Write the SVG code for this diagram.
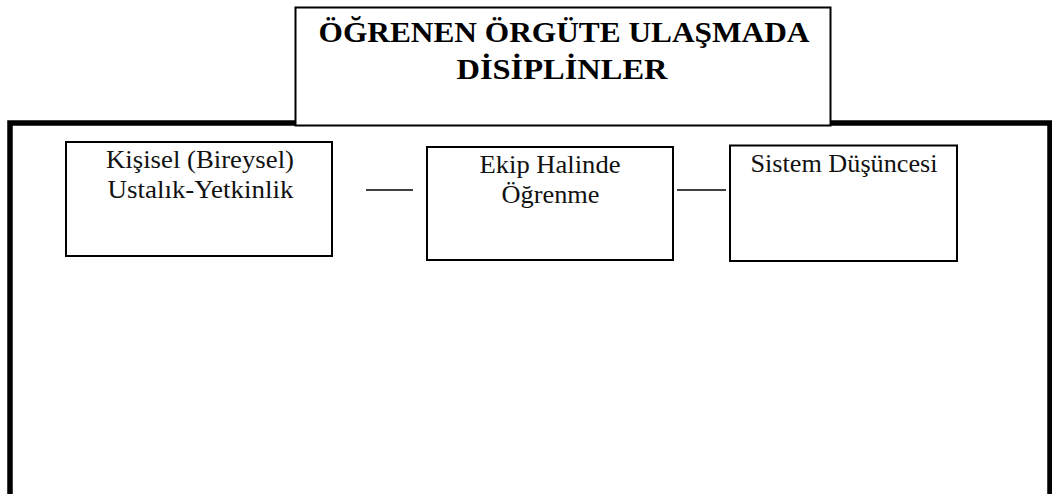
<svg xmlns="http://www.w3.org/2000/svg" width="1052" height="494" viewBox="0 0 1052 494">
  <style>
    .frame { fill: none; stroke: #000; stroke-width: 5.5; stroke-linecap: butt; }
    .box { fill: #fff; stroke: #000; stroke-width: 2; }
    .link { stroke: #000; stroke-width: 1.6; fill: none; }
    .title { font-family: "Liberation Serif", "Times New Roman", serif; font-weight: bold; font-size: 30px; fill: #000; text-anchor: middle; }
    .label { font-family: "Liberation Serif", "Times New Roman", serif; font-size: 25.5px; fill: #111; text-anchor: middle; }
  </style>
  <rect width="1052" height="494" fill="#fff"/>

  <!-- outer heavy frame, open at the bottom -->
  <g id="frame">
    <path class="frame" d="M10,494 V123 H311"/>
    <path class="frame" d="M816,123 H1050 V494"/>
  </g>

  <!-- heading box -->
  <g id="title">
    <rect class="box" x="295.5" y="7.5" width="535" height="118"/>
    <text class="title" x="564" y="42" textLength="491" lengthAdjust="spacingAndGlyphs">ÖĞRENEN ÖRGÜTE ULAŞMADA</text>
    <text class="title" x="562" y="78.5" textLength="211" lengthAdjust="spacingAndGlyphs">DİSİPLİNLER</text>
  </g>

  <!-- connectors between the discipline boxes -->
  <g id="connectors">
    <line class="link" x1="366" y1="190" x2="413" y2="190"/>
    <line class="link" x1="677" y1="190" x2="726" y2="190"/>
  </g>

  <g id="node-kisisel">
    <rect class="box" x="66" y="142" width="266" height="114"/>
    <text class="label" x="200" y="167.5" textLength="188" lengthAdjust="spacingAndGlyphs">Kişisel (Bireysel)</text>
    <text class="label" x="200.5" y="197.5" textLength="186" lengthAdjust="spacingAndGlyphs">Ustalık-Yetkinlik</text>
  </g>

  <g id="node-ekip">
    <rect class="box" x="427" y="147" width="246" height="113"/>
    <text class="label" x="550" y="173" textLength="141" lengthAdjust="spacingAndGlyphs">Ekip Halinde</text>
    <text class="label" x="550.5" y="203" textLength="98" lengthAdjust="spacingAndGlyphs">Öğrenme</text>
  </g>

  <g id="node-sistem">
    <rect class="box" x="730" y="145.5" width="227" height="115.5"/>
    <text class="label" x="844" y="172" textLength="187" lengthAdjust="spacingAndGlyphs">Sistem Düşüncesi</text>
  </g>
</svg>
